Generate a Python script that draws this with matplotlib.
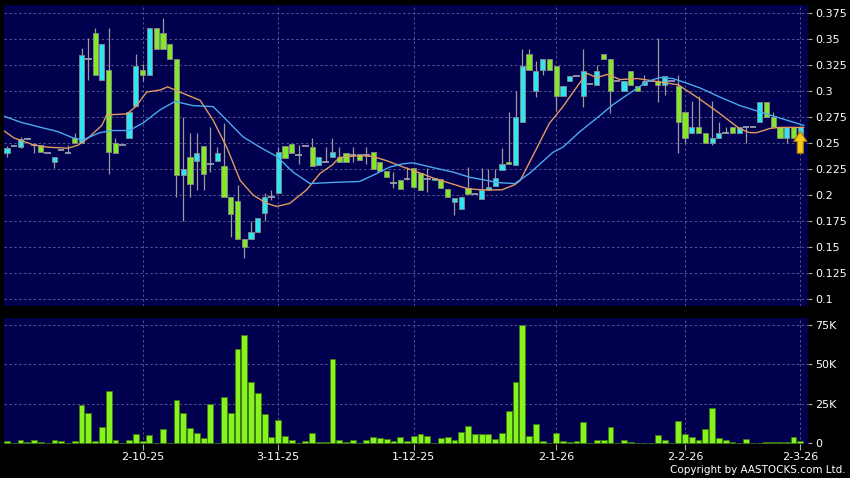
import matplotlib
matplotlib.use("Agg")
import matplotlib.pyplot as plt
from matplotlib.patches import Rectangle, FancyArrow
import numpy as np

# ---------------- data ----------------
opens = [.240, .247, .246, .254, .248, .248, .240, .232, .243, .240,
         .255, .250, .331, .356, .311, .320, .250, .248, .255, .286,
         .320, .315, .361, .356, .345, .331, .219, .237, .233, .247,
         .230, .233, .228, .198, .194, .158, .158, .164, .183, .198,
         .202, .247, .249, .238, .247, .246, .229, .232, .237, .237,
         .240, .238, .239, .238, .241, .232, .223, .212, .214, .215,
         .226, .221, .215, .214, .215, .206, .193, .187, .207, .201,
         .196, .205, .209, .224, .232, .229, .270, .336, .300, .320,
         .331, .324, .295, .310, .314, .295, .307, .306, .336, .331,
         .310, .300, .319, .305, .306, .310, .310, .306, .310, .305,
         .280, .260, .265, .260, .250, .255, .260, .265, .260, .265,
         .265, .270, .289, .275, .265, .255, .265, .250]
highs = [.247, .247, .256, .255, .250, .248, .240, .237, .243, .248,
         .260, .341, .351, .361, .345, .361, .255, .248, .280, .336,
         .326, .361, .361, .370, .345, .331, .275, .260, .260, .247,
         .265, .246, .269, .198, .210, .158, .175, .178, .202, .205,
         .246, .247, .249, .248, .247, .255, .237, .246, .255, .246,
         .240, .246, .239, .246, .241, .232, .223, .222, .214, .227,
         .226, .221, .226, .216, .215, .206, .197, .198, .227, .201,
         .226, .225, .225, .245, .280, .300, .340, .340, .329, .331,
         .331, .324, .305, .314, .314, .340, .307, .325, .336, .331,
         .310, .310, .319, .305, .315, .310, .351, .314, .310, .315,
         .280, .290, .295, .260, .290, .270, .265, .265, .265, .265,
         .265, .289, .289, .280, .265, .265, .265, .265]
lows = [.237, .247, .245, .254, .240, .241, .240, .226, .243, .240,
        .250, .250, .311, .315, .311, .220, .240, .248, .255, .286,
        .310, .315, .340, .340, .331, .198, .175, .198, .205, .205,
        .222, .233, .198, .160, .158, .139, .158, .164, .175, .195,
        .202, .236, .240, .230, .247, .228, .229, .232, .237, .232,
        .232, .232, .234, .230, .225, .223, .217, .207, .206, .214,
        .208, .205, .203, .214, .207, .198, .181, .187, .201, .201,
        .196, .205, .209, .224, .230, .229, .270, .320, .294, .315,
        .320, .281, .295, .310, .314, .285, .307, .306, .331, .279,
        .310, .300, .306, .300, .306, .310, .289, .296, .310, .240,
        .250, .260, .260, .250, .248, .255, .260, .260, .260, .250,
        .265, .270, .275, .265, .255, .250, .255, .250]
closes = [.245, .247, .254, .254, .248, .241, .240, .237, .243, .240,
          .250, .335, .331, .315, .345, .241, .240, .248, .280, .324,
          .315, .361, .340, .340, .331, .219, .225, .211, .240, .220,
          .230, .240, .198, .182, .158, .150, .164, .178, .198, .198,
          .241, .236, .240, .238, .247, .228, .237, .232, .241, .232,
          .232, .238, .234, .238, .225, .223, .217, .212, .206, .215,
          .208, .205, .215, .216, .207, .198, .197, .198, .201, .201,
          .205, .208, .216, .230, .230, .275, .324, .320, .319, .331,
          .320, .295, .305, .314, .314, .319, .307, .319, .331, .300,
          .310, .310, .306, .300, .310, .310, .306, .314, .310, .270,
          .255, .265, .260, .250, .255, .260, .260, .260, .265, .265,
          .265, .289, .275, .265, .255, .265, .255, .265]
volumes_k = [1.3, 0, 2.1, 0.8, 2.3, 0.8, 0, 2.1, 1.3, 0,
             1.3, 24.3, 19.4, 1.3, 10.5, 33.0, 2.0, 0.5, 2.0, 5.9,
             1.3, 5.5, 0, 8.9, 0.5, 27.4, 19.4, 9.9, 6.5, 3.6,
             24.9, 0, 29.2, 19.4, 59.8, 68.5, 38.7, 31.7, 18.6, 4.2,
             15.0, 4.4, 1.9, 0.4, 1.3, 6.7, 1.0, 0.8, 53.2, 1.9,
             0.8, 1.9, 0.4, 2.3, 4.0, 3.6, 2.8, 1.3, 4.2, 1.3,
             4.4, 5.9, 4.6, 0.4, 3.6, 3.8, 1.9, 7.2, 11.2, 6.1,
             6.1, 5.9, 2.9, 6.3, 20.5, 38.9, 75.0, 4.9, 12.4, 1.7,
             0, 6.5, 1.7, 0.8, 1.3, 13.3, 0, 1.9, 1.9, 10.5,
             0.5, 2.1, 1.0, 0.5, 0.5, 0, 5.3, 1.9, 0, 14.1,
             5.7, 3.8, 2.1, 9.1, 22.4, 3.4, 1.9, 0.8, 0, 2.9,
             0, 0.5, 0.8, 0.8, 0.8, 0.8, 4.2, 1.3]

# moving averages (session index, price)
ma_short_idx = [-0.5, 1, 4, 6, 9, 10.5, 12, 14, 14.7, 17.7, 19, 20.6, 22.6, 23.7,
                25.5, 28.5, 30.4, 32.4, 34.4, 36.3, 38.3, 39.8, 41.7, 44.2, 46.2,
                48, 49, 52, 54, 56, 58.4, 61, 63, 66, 68, 70, 73, 74.9, 75.7,
                77.5, 80, 82, 83.5, 85.5, 87, 88.6, 90.4, 93, 95, 96, 99, 102,
                105, 108, 109.5, 110.6, 112.5, 114, 117.5]
ma_short_val = [.262, .255, .248, .246, .245, .248, .255, .267, .277, .278, .285, .299, .301, .304,
                .299, .291, .272, .246, .214, .200, .192, .189, .192, .205, .221,
                .229, .236, .238, .237, .233, .227, .221, .216, .210, .206, .205, .205, .210, .214,
                .237, .269, .285, .299, .317, .313, .316, .311, .312, .310, .309, .306, .293,
                .279, .264, .260, .260, .264, .265, .265]
ma_long_idx = [-0.5, 2, 5, 7.5, 9.7, 11.2, 13.7, 15.6, 18, 20, 22.6, 24.8, 27.4, 30.4,
               32.4, 34.8, 37.3, 39.8, 42.2, 44.7, 47.6, 52, 54, 56.5, 58.4, 59.9,
               62.4, 65.8, 68.3, 70.8, 72.3, 74.9, 77.1, 80.5, 82, 84.5, 87, 89.4,
               91.4, 94.4, 96.3, 98.2, 99.6, 102.2, 105.2, 108.1, 111, 114, 117.5]
ma_long_val = [.276, .270, .265, .261, .255, .253, .260, .262, .262, .269, .282, .290, .286, .285,
               .272, .256, .246, .237, .222, .211, .212, .213, .219, .227, .230, .231,
               .227, .222, .217, .214, .212, .211, .221, .241, .246, .261, .274, .287,
               .296, .309, .313, .312, .309, .303, .294, .286, .280, .274, .267]

date_tick_idx = [20, 40, 60, 81, 100, 117]
date_labels = ["2-10-25", "3-11-25", "1-12-25", "2-1-26", "2-2-26", "2-3-26"]
price_ticks = [0.1, 0.125, 0.15, 0.175, 0.2, 0.225, 0.25, 0.275, 0.3, 0.325, 0.35, 0.375]
price_labels = ["0.1", "0.125", "0.15", "0.175", "0.2", "0.225", "0.25", "0.275",
                "0.3", "0.325", "0.35", "0.375"]
vol_ticks_k = [0, 25, 50, 75]
vol_labels = ["0", "25K", "50K", "75K"]

# ---------------- style ----------------
W, H = 850, 478
BG = "#000000"
PANEL = "#00004e"
GRID = "#55558a"
UP = "#2ee6f2"
DOWN = "#84e82a"
EDGE = "#8a8a8a"
WICK = "#9a9a9a"
VOLC = "#86f21e"
VOLE = "#3f7a10"
MA_S = "#e09a62"
MA_L = "#4aaaf0"
TXT = "#ffffff"
DASH = (0, (2.5, 2.5))

fig = plt.figure(figsize=(W / 100, H / 100), dpi=100, facecolor=BG)

def px_axes(l, t, r, b):
    return fig.add_axes([l / W, 1 - b / H, (r - l) / W, (b - t) / H])

axp = px_axes(4, 5, 808, 306)
axv = px_axes(4, 318, 808, 444)

xlo, xhi = -0.44, 118.14
for ax in (axp, axv):
    ax.set_facecolor(PANEL)
    for s in ax.spines.values():
        s.set_visible(False)
    ax.set_xlim(xlo, xhi)
    ax.yaxis.tick_right()
    ax.tick_params(axis="y", colors="#aaaaaa", labelcolor=TXT, length=3, width=0.8,
                   pad=2, labelsize=8)
    for xi in date_tick_idx:
        ax.axvline(xi, color=GRID, lw=0.7, ls=DASH, zorder=0.5)

axp.set_ylim(0.0933, 0.3827)
axp.set_yticks(price_ticks)
axp.set_yticklabels(price_labels)
axp.set_xticks([])
for yv in price_ticks:
    axp.axhline(yv, color=GRID, lw=0.7, ls=DASH, zorder=0.5)

# candles
bw = 0.76
n = len(closes)
for i in range(n):
    o, h, l, c = opens[i], highs[i], lows[i], closes[i]
    if h > l:
        axp.vlines(i, l, h, color=WICK, lw=0.9, zorder=2)
    if c > o:
        axp.add_patch(Rectangle((i - bw / 2, o), bw, c - o, facecolor=UP,
                                edgecolor=EDGE, lw=0.6, zorder=3))
    elif c < o:
        axp.add_patch(Rectangle((i - bw / 2, c), bw, o - c, facecolor=DOWN,
                                edgecolor=EDGE, lw=0.6, zorder=3))
    else:
        axp.hlines(c, i - bw / 2 - 0.1, i + bw / 2 + 0.1, color="#a8a8b8", lw=1.2, zorder=3)

axp.plot(ma_short_idx, ma_short_val, color=MA_S, lw=1.0, zorder=4)
axp.plot(ma_long_idx, ma_long_val, color=MA_L, lw=1.0, zorder=4)

# yellow marker arrow on the last session
axp.add_patch(FancyArrow(n - 1, 0.2401, 0, 0.0210, width=0.9, head_width=1.95,
                         head_length=0.0096, length_includes_head=True,
                         facecolor="#f8c91c", edgecolor="#a67c00", lw=0.8, zorder=6))

# volume
axv.set_ylim(-0.44, 79.4)
axv.set_yticks(vol_ticks_k)
axv.set_yticklabels(vol_labels)
for yv in vol_ticks_k[1:]:
    axv.axhline(yv, color=GRID, lw=0.7, ls=DASH, zorder=0.5)
axv.bar(np.arange(n), volumes_k, width=0.86, color=VOLC, edgecolor=VOLE, lw=0.6, zorder=3)
axv.set_xticks(date_tick_idx)
axv.set_xticklabels(date_labels)
axv.tick_params(axis="x", colors="#aaaaaa", labelcolor=TXT, length=4, width=0.8,
                pad=2, labelsize=8)

fig.text(846 / W, 1 - 470 / H, "Copyright by AASTOCKS.com Ltd.", color=TXT,
         fontsize=7.5, ha="right", va="center")

fig.savefig("out.png", dpi=100, facecolor=BG)
